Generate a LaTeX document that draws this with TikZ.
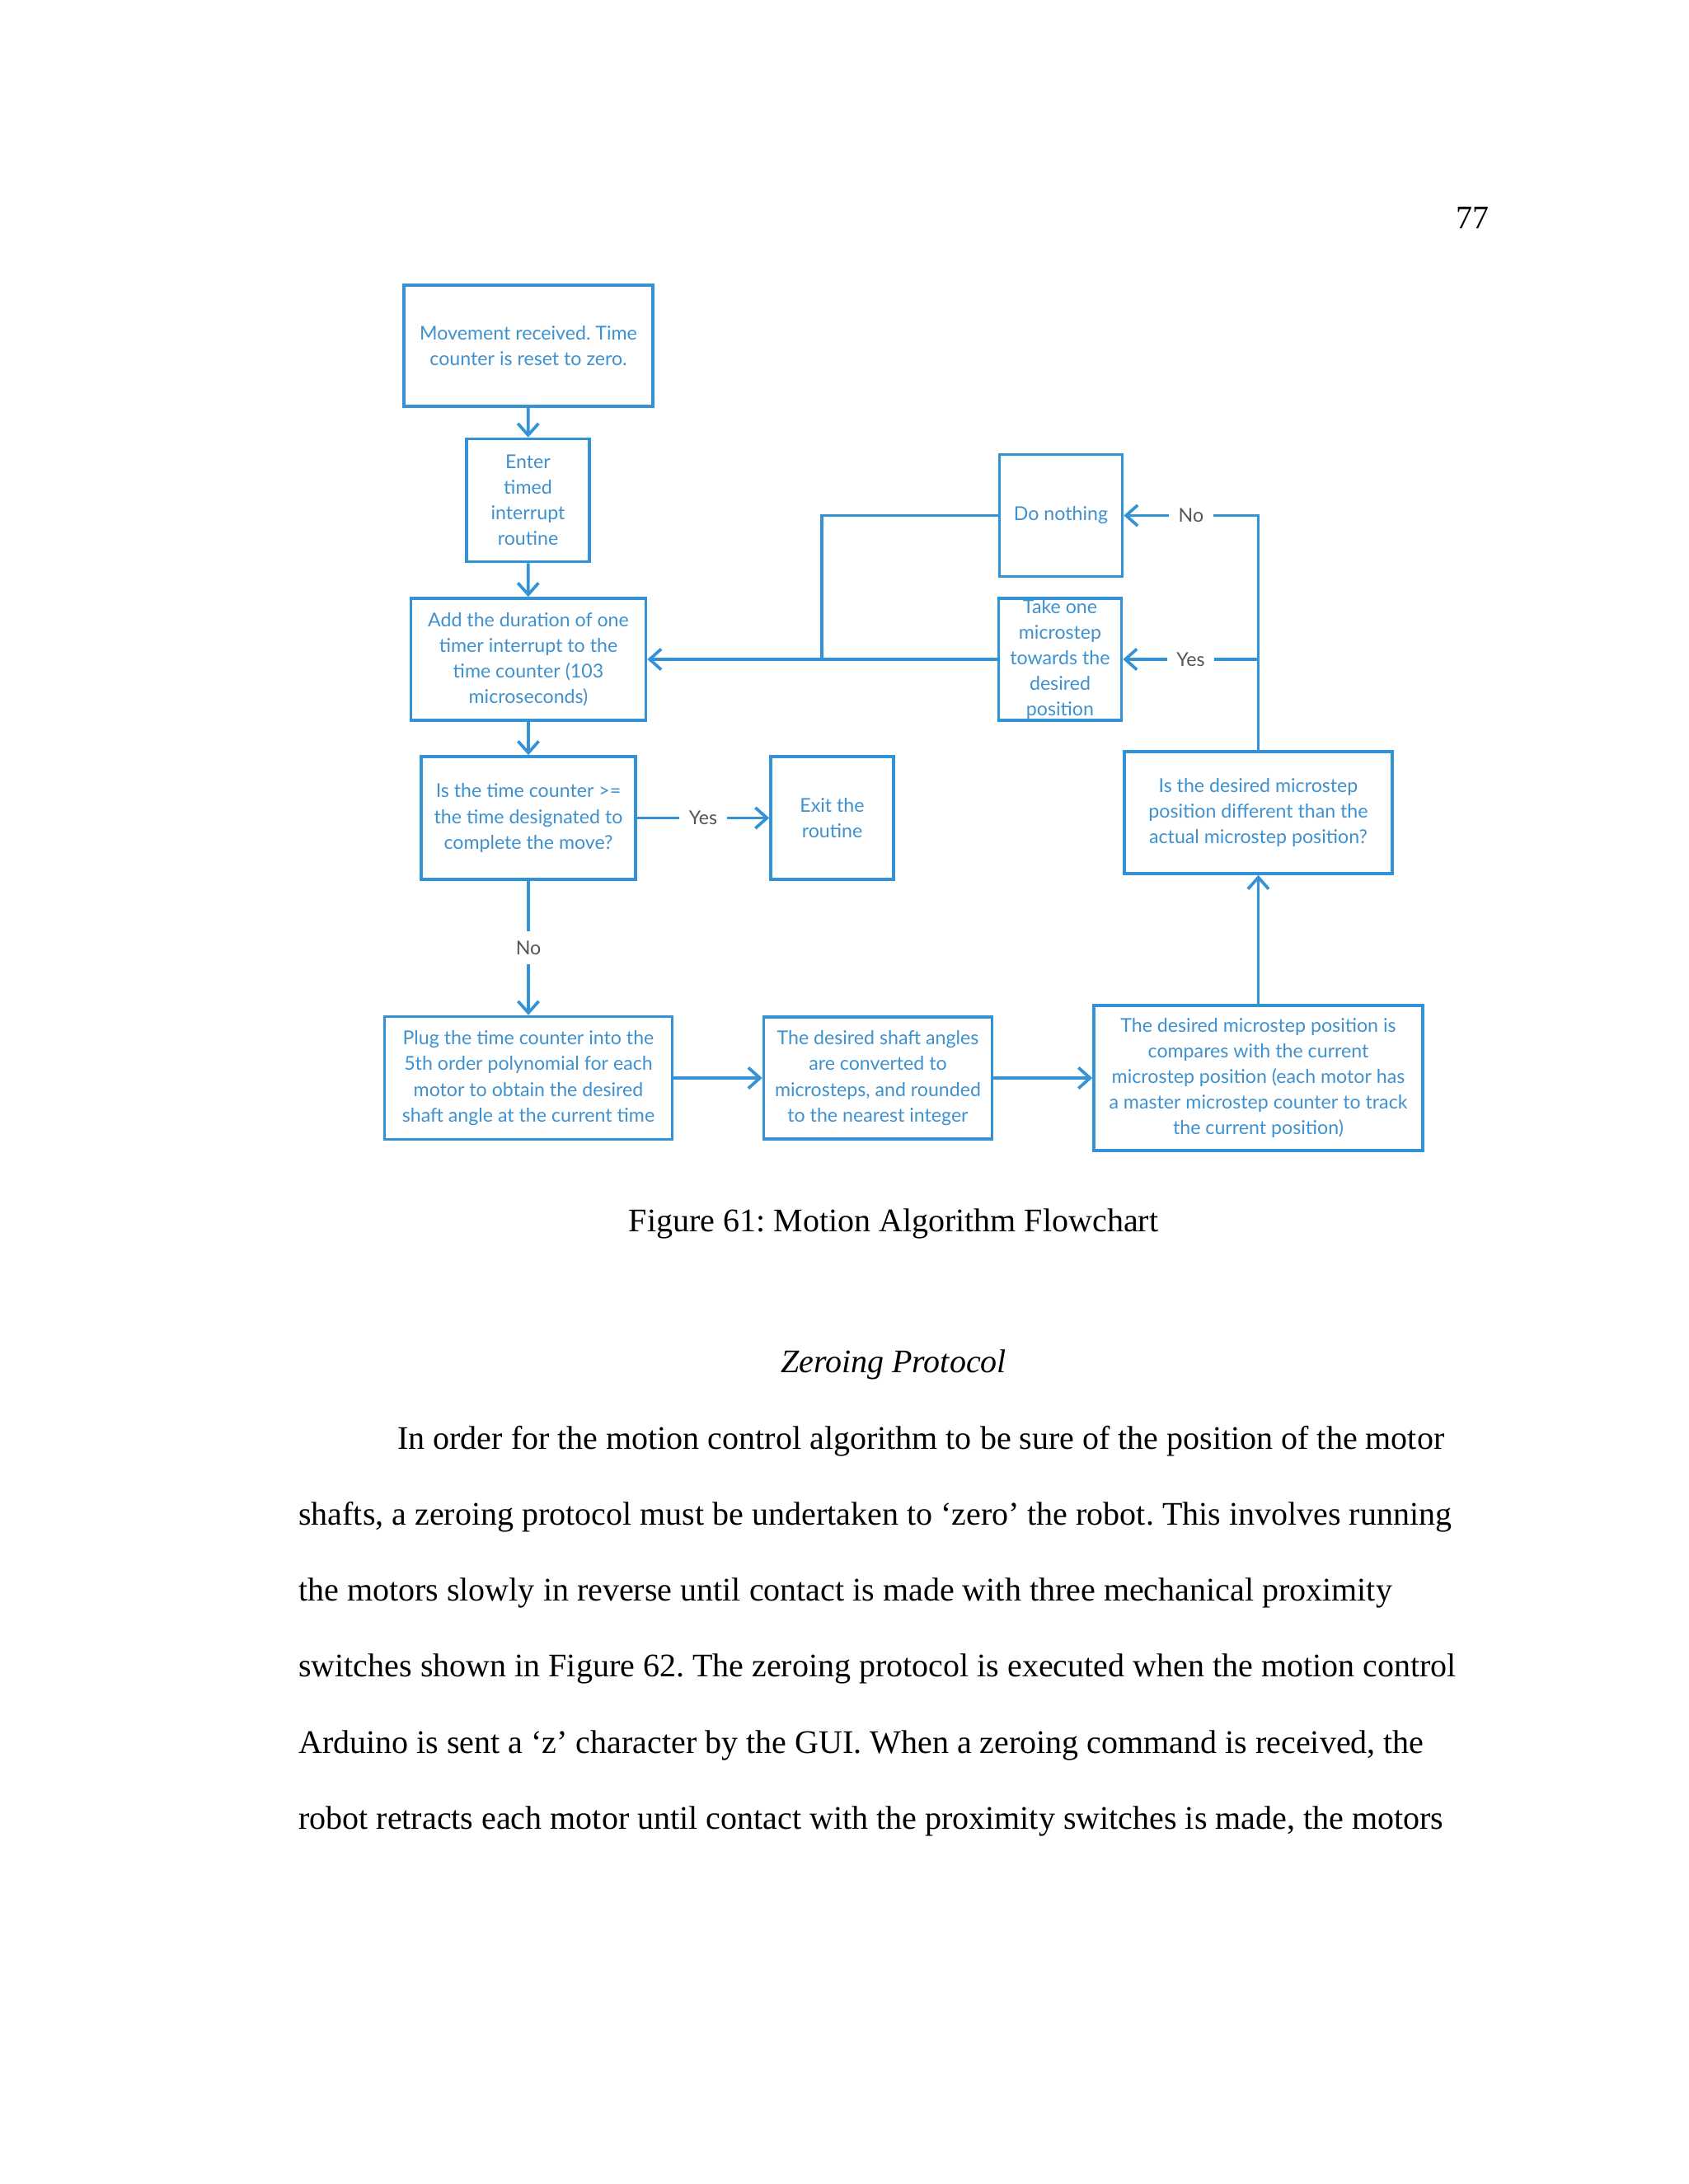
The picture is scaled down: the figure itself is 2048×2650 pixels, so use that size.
\documentclass[tikz,border=0pt]{standalone}
\usepackage{fontspec}
\setmainfont{Liberation Serif}
\newfontfamily\latofont{Lato}
\usepackage{tikz}
\usetikzlibrary{arrows.meta}
\frenchspacing

\definecolor{flowblue}{RGB}{52,146,214}
\definecolor{boxtext}{RGB}{62,145,206}
\definecolor{answergray}{RGB}{85,85,85}
\newcommand{\boxfont}{\latofont\fontsize{6.95}{9.35}\selectfont}
\newcommand{\pagefont}{\fontsize{12}{14}\selectfont}
\def\pxlen{0.29883bp}

\begin{document}
\begin{tikzpicture}[x=0.29883bp,y=-0.29883bp,>={Straight Barb[length=4.2bp,width=7.5bp]},
box/.style 2 args={draw=flowblue,line width=1.1bp,inner sep=0pt,align=center,text=boxtext,font=\boxfont,minimum width=#1*\pxlen,minimum height=#2*\pxlen},
flow/.style={draw=flowblue,line width=1.1bp},
answer/.style={fill=white,text=answergray,font=\boxfont,inner sep=3.5bp},
body/.style={anchor=base west,inner sep=0pt,font=\pagefont}]
\useasboundingbox (0,0) rectangle (2048,2650);

\node[anchor=base east,inner sep=0pt,font=\pagefont] (pagenum) at (1807,277) {77};

\node[box={302}{147}] (received) at (641,419.5) {Movement received. Time\\counter is reset to zero.};
\node[box={149}{149}] (enter) at (640.5,607) {Enter\\timed\\interrupt\\routine};
\node[box={285}{148}] (addtime) at (641,800) {Add the duration of one\\timer interrupt to the\\time counter (103\\microseconds)};
\node[box={260}{149}] (check) at (641,992.5) {Is the time counter >=\\the time designated to\\complete the move?};
\node[box={149}{149}] (exit) at (1009.5,992.5) {Exit the\\routine};
\node[box={349}{149}] (poly) at (641,1308) {Plug the time counter into the\\5th order polynomial for each\\motor to obtain the desired\\shaft angle at the current time};
\node[box={277}{148}] (convert) at (1065,1308) {The desired shaft angles\\are converted to\\microsteps, and rounded\\to the nearest integer};
\node[box={399}{176}] (compare) at (1526.5,1308) {The desired microstep position is\\compares with the current\\microstep position (each motor has\\a master microstep counter to track\\the current position)};
\node[box={325}{148}] (differ) at (1526.5,986) {Is the desired microstep\\position different than the\\actual microstep position?};
\node[box={149}{148},inner ysep=-6bp] (stepone) at (1286,800) {Take one\\microstep\\towards the\\desired\\position};
\node[box={149}{148}] (nothing) at (1287,625.5) {Do nothing};
\coordinate (merge) at (997,800);

\draw[flow,->] (received) -- (enter);
\draw[flow,->] (enter) -- (addtime);
\draw[flow,->] (addtime) -- (check);
\draw[flow,->] (check) -- node[answer] {Yes} (exit);
\draw[flow,->] (check) -- node[answer] {No} (poly);
\draw[flow,->] (poly) -- (convert);
\draw[flow,->] (convert) -- (compare);
\draw[flow,->] (compare) -- (differ);
\draw[flow,->] (differ.north) |- node[answer,pos=0.75] {No} (nothing.east);
\draw[flow,->] (differ.north |- stepone.east) -- node[answer] {Yes} (stepone.east);
\draw[flow] (nothing.west) -| (merge);
\draw[flow,->] (stepone.west) -- (addtime.east);

\node[anchor=base,inner sep=0pt,font=\pagefont] (caption) at (1084,1494) {Figure 61: Motion Algorithm Flowchart};
\node[anchor=base,inner sep=0pt,font=\pagefont\itshape] (heading) at (1084,1665) {Zeroing Protocol};

\node[body] (par1) at (481.6,1758) {In order for the motion control algorithm to be sure of the position of the motor};
\node[body] (par2) at (361.6,1850.3) {shafts, a zeroing protocol must be undertaken to ‘zero’ the robot. This involves running};
\node[body] (par3) at (361.6,1942.6) {the motors slowly in reverse until contact is made with three mechanical proximity};
\node[body] (par4) at (361.6,2034.9) {switches shown in Figure 62. The zeroing protocol is executed when the motion control};
\node[body] (par5) at (361.6,2127.2) {Arduino is sent a ‘z’ character by the GUI. When a zeroing command is received, the};
\node[body] (par6) at (361.6,2219.5) {robot retracts each motor until contact with the proximity switches is made, the motors};
\end{tikzpicture}
\end{document}
